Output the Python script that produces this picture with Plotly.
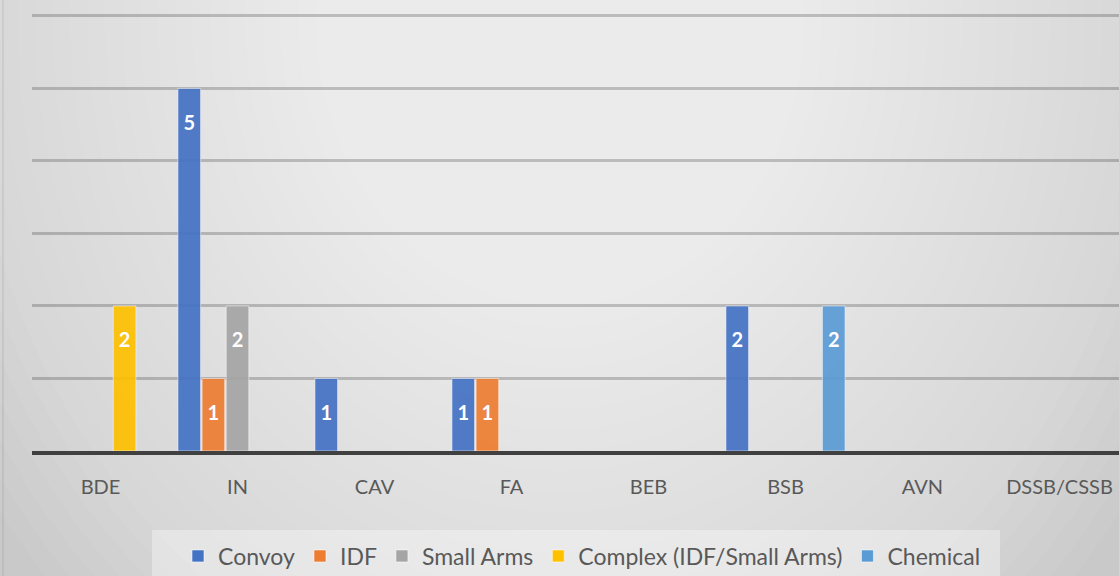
import plotly.graph_objects as go

categories = ["BDE", "IN", "CAV", "FA", "BEB", "BSB", "AVN", "DSSB/CSSB"]
convoy = [0, 5, 1, 1, 0, 2, 0, 0]
idf = [0, 1, 0, 1, 0, 0, 0, 0]
small_arms = [0, 2, 0, 0, 0, 0, 0, 0]
complex_ = [2, 0, 0, 0, 0, 0, 0, 0]
chemical = [0, 0, 0, 0, 0, 2, 0, 0]

series = [
    ("Convoy", convoy, "#4472C4"),
    ("IDF", idf, "#ED7D31"),
    ("Small Arms", small_arms, "#A5A5A5"),
    ("Complex (IDF/Small Arms)", complex_, "#FFC000"),
    ("Chemical", chemical, "#5B9BD5"),
]

FONT = "Lato, Roboto, sans-serif"

W, H = 1119, 576
L, T, B = 32, 13, 125
PW = W - L
PH = H - T - B


def px_x(p):
    return (p - L) / PW


def px_y(p):
    return (H - B - p) / PH


fig = go.Figure()

for name, vals, color in series:
    fig.add_trace(go.Bar(
        x=categories, y=[v if v else None for v in vals], name=name,
        offsetgroup=name,
        marker=dict(color=color, opacity=0.92,
                    line=dict(color="rgba(255,255,255,0.55)", width=1)),
        hoverinfo="x+y+name",
    ))

for name, vals, color in series:
    xs = [c for c, v in zip(categories, vals) if v]
    ys = [v - 0.5 for v in vals if v]
    fig.add_trace(go.Scatter(
        x=xs, y=ys, mode="text", text=[str(v) for v in vals if v],
        offsetgroup=name, showlegend=False, hoverinfo="skip",
        textfont=dict(family=FONT, size=20, color="white", weight="bold"),
    ))

# background radial gradient approximation
shapes = []
N = 40
cx, cy = 560, 20
rx_max, ry_max = 700, 820
for i in range(N):
    f = 1 - i / N
    rx, ry = rx_max * f, ry_max * f
    shapes.append(dict(
        type="circle", xref="paper", yref="paper", layer="below",
        x0=px_x(cx - rx), x1=px_x(cx + rx), y0=px_y(cy + ry), y1=px_y(cy - ry),
        fillcolor="rgba(255,255,255,0.047)", line=dict(width=0),
    ))
# faint left border line
shapes.append(dict(type="line", xref="paper", yref="paper", layer="below",
                   x0=px_x(3), x1=px_x(3), y0=px_y(0), y1=px_y(H),
                   line=dict(color="rgba(0,0,0,0.06)", width=2)))
# legend box
shapes.append(dict(type="rect", xref="paper", yref="paper", layer="below",
                   x0=px_x(152), x1=px_x(1000), y0=px_y(530), y1=px_y(H + 5),
                   fillcolor="rgba(255,255,255,0.35)", line=dict(width=0)))

fig.update_layout(
    width=W, height=H,
    margin=dict(l=L, r=0, t=T, b=B, pad=0, autoexpand=False),
    paper_bgcolor="#c9c9c9",
    plot_bgcolor="rgba(0,0,0,0)",
    barmode="group",
    bargap=0.12,
    bargroupgap=0.06,
    scattermode="group",
    scattergap=0.12,
    shapes=shapes,
    showlegend=True,
    legend=dict(
        orientation="h", x=px_x(582), xanchor="center", y=px_y(556), yanchor="middle",
        font=dict(family=FONT, size=23, color="#595959"),
        bgcolor="rgba(0,0,0,0)", itemwidth=30, traceorder="normal",
    ),
    xaxis=dict(
        type="category", range=[-0.5, -0.5 + PW / 137.0],
        showgrid=False, showline=True, linecolor="#404040", linewidth=4,
        ticks="outside", ticklen=15, tickcolor="rgba(0,0,0,0)",
        tickfont=dict(family=FONT, size=20, color="#595959"),
        fixedrange=True,
    ),
    yaxis=dict(
        range=[0, 6.04], dtick=1, showgrid=True,
        gridcolor="rgba(0,0,0,0.2)", gridwidth=2.5,
        showticklabels=False, zeroline=False, showline=False, ticks="",
        fixedrange=True,
    ),
    font=dict(family=FONT, color="#595959"),
)

fig.write_html(
    "out.html",
    config={"displayModeBar": False},
    post_script="document.body.style.margin='0';document.body.style.overflow='hidden';",
)
